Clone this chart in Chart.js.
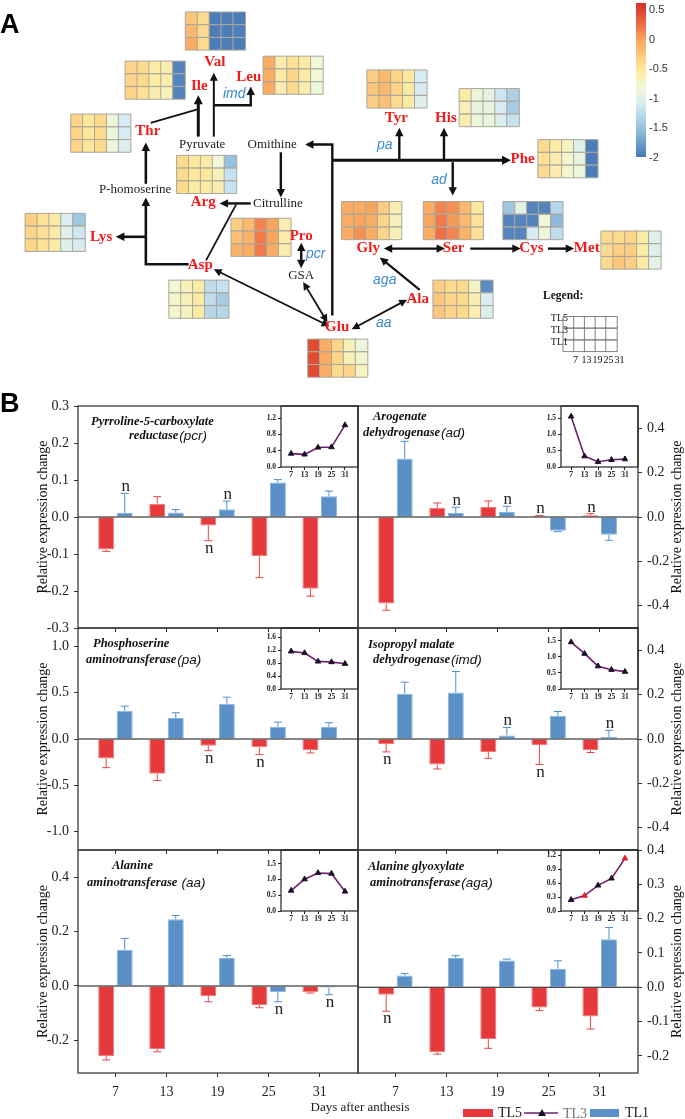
<!DOCTYPE html>
<html>
<head>
<meta charset="utf-8">
<script src="https://cdn.jsdelivr.net/npm/chart.js@4.4.0/dist/chart.umd.min.js"></script>
<style>
  body { margin: 0; background: #fff; }
  #wrap { position: relative; width: 685px; height: 1119px; overflow: hidden; }
  #wrap canvas { position: absolute; left: 0; top: 0; }
</style>
</head>
<body>
<div id="wrap"></div>
<script>
// ---- data ----
const days = [7, 13, 19, 25, 31];

// panel A heatmaps: rows TL5, TL3, TL1 ; columns = days
const hmVal = [[-0.25,-0.4,-1.95,-1.95,-1.95],[-0.15,-0.4,-1.95,-1.95,-1.95],[-0.05,-0.4,-1.95,-1.95,-1.95]];
const hmIle = [[-0.35,-0.4,-0.55,-0.6,-1.9],[-0.35,-0.4,-0.55,-0.6,-1.9],[-0.35,-0.45,-0.6,-0.65,-1.9]];
const hmLeu = [[-0.05,-0.6,-0.45,-0.55,-0.8],[-0.05,-0.55,-0.35,-0.55,-0.8],[-0.05,-0.6,-0.4,-0.6,-0.85]];
const hmThr = [[-0.35,-0.5,-0.4,-0.85,-1.1],[-0.35,-0.5,-0.4,-0.85,-1.1],[-0.35,-0.5,-0.4,-0.85,-1.05]];
const hmArg = [[-0.4,-0.5,-0.55,-0.8,-1.5],[-0.4,-0.5,-0.5,-0.65,-1.2],[-0.4,-0.55,-0.55,-0.6,-1.2]];
const hmTyr = [[-0.3,-0.15,-0.35,-0.5,-1.1],[-0.25,-0.15,-0.35,-0.55,-1.1],[-0.3,-0.2,-0.4,-0.55,-1.0]];
const hmHis = [[-0.55,-0.85,-0.95,-1.15,-1.35],[-0.65,-0.9,-0.9,-1.1,-1.4],[-0.6,-0.85,-0.9,-1.05,-1.2]];
const hmPhe = [[-0.4,-0.55,-0.7,-1.0,-1.95],[-0.45,-0.6,-0.75,-0.9,-1.95],[-0.4,-0.6,-0.75,-0.85,-1.95]];
const hmLys = [[-0.3,-0.45,-0.55,-1.05,-1.45],[-0.35,-0.45,-0.55,-1.0,-1.15],[-0.35,-0.45,-0.55,-1.0,-1.1]];
const hmPro = [[-0.3,-0.15,0.15,0.0,-0.6],[-0.2,-0.1,0.2,0.0,-0.6],[-0.1,-0.05,0.2,-0.05,-0.6]];
const hmAsp = [[-0.8,-0.65,-0.55,-1.25,-1.2],[-0.75,-0.65,-0.55,-1.25,-1.4],[-0.75,-0.7,-0.55,-1.3,-1.3]];
const hmGlu = [[0.45,-0.05,-0.35,-0.65,-0.85],[0.45,-0.05,-0.35,-0.65,-0.75],[0.45,-0.05,-0.4,-0.35,-0.7]];
const hmGly = [[-0.05,-0.05,0.0,-0.3,-0.6],[-0.05,0.0,-0.05,-0.35,-0.65],[-0.05,0.1,-0.05,-0.35,-0.65]];
const hmSer = [[-0.05,0.15,0.1,-0.15,-0.5],[0.0,0.2,0.05,-0.15,-0.45],[-0.05,0.25,0.15,-0.1,-0.45]];
const hmCys = [[-1.45,-0.95,-1.9,-1.9,-1.3],[-1.9,-1.9,-1.9,-0.8,-1.55],[-1.9,-1.9,-1.1,-0.85,-1.25]];
const hmMet = [[-0.4,-0.4,-0.35,-0.55,-1.0],[-0.4,-0.3,-0.3,-0.55,-1.0],[-0.4,-0.25,-0.3,-0.55,-0.95]];
const hmAla = [[-0.3,-0.4,-0.4,-0.7,-1.85],[-0.25,-0.35,-0.4,-0.6,-1.05],[-0.25,-0.35,-0.4,-0.6,-1.05]];
const colorbarTicks = [0.5, 0, -0.5, -1, -1.5, -2];

// panel B: relative expression change (TL5, TL1), error, "n" marks, TL3 insets
const pcrTL5 = [-0.088, 0.036, -0.023, -0.106, -0.194];
const pcrTL5Err = [0.005, 0.019, 0.041, 0.058, 0.020];
const pcrTL1 = [0.011, 0.012, 0.021, 0.093, 0.056];
const pcrTL1Err = [0.053, 0.008, 0.022, 0.008, 0.014];
const pcrTL5n = [0, 0, 1, 0, 0];
const pcrTL1n = [1, 0, 1, 0, 0];
const pcrTL3 = [0.33, 0.31, 0.48, 0.49, 1.03];
const pcrTicks = [-0.3, -0.2, -0.1, 0, 0.1, 0.2, 0.3];
const pcrTL3Ticks = [0, 0.4, 0.8, 1.2];

const adTL5 = [-0.39, 0.042, 0.045, 0.005, 0.008];
const adTL5Err = [0.03, 0.021, 0.027, 0.002, 0.007];
const adTL1 = [0.263, 0.018, 0.023, -0.062, -0.08];
const adTL1Err = [0.078, 0.026, 0.025, 0.004, 0.025];
const adTL5n = [0, 0, 0, 1, 1];
const adTL1n = [0, 1, 1, 0, 0];
const adTL3 = [1.55, 0.33, 0.16, 0.22, 0.24];
const adTicks = [-0.4, -0.2, 0, 0.2, 0.4];
const adTL3Ticks = [0, 0.5, 1.0, 1.5];

const paTL5 = [-0.21, -0.377, -0.072, -0.09, -0.122];
const paTL5Err = [0.10, 0.072, 0.054, 0.079, 0.029];
const paTL1 = [0.305, 0.226, 0.38, 0.133, 0.133];
const paTL1Err = [0.05, 0.058, 0.072, 0.05, 0.043];
const paTL5n = [0, 0, 1, 1, 0];
const paTL1n = [0, 0, 0, 0, 0];
const paTL3 = [1.16, 1.11, 0.85, 0.83, 0.78];
const paTicks = [-1.0, -0.5, 0, 0.5, 1.0];
const paTL3Ticks = [0, 0.4, 0.8, 1.2, 1.6];

const imdTL5 = [-0.022, -0.115, -0.058, -0.027, -0.051];
const imdTL5Err = [0.036, 0.02, 0.029, 0.088, 0.01];
const imdTL1 = [0.204, 0.21, 0.016, 0.105, 0.009];
const imdTL1Err = [0.052, 0.094, 0.036, 0.019, 0.03];
const imdTL5n = [1, 0, 0, 1, 0];
const imdTL1n = [0, 0, 1, 0, 1];
const imdTL3 = [1.46, 1.1, 0.71, 0.6, 0.54];
const imdTicks = [-0.4, -0.2, 0, 0.2, 0.4];
const imdTL3Ticks = [0, 0.5, 1.0, 1.5];

const aaTL5 = [-0.258, -0.232, -0.037, -0.07, -0.023];
const aaTL5Err = [0.014, 0.01, 0.021, 0.01, 0.003];
const aaTL1 = [0.133, 0.245, 0.103, -0.023, -0.006];
const aaTL1Err = [0.042, 0.014, 0.009, 0.035, 0.026];
const aaTL5n = [0, 0, 0, 0, 0];
const aaTL1n = [0, 0, 0, 1, 1];
const aaTL3 = [0.65, 1.01, 1.21, 1.19, 0.62];
const aaTicks = [-0.2, 0, 0.2, 0.4];
const aaTL3Ticks = [0, 0.5, 1.0, 1.5];

const agaTL5 = [-0.022, -0.189, -0.151, -0.059, -0.085];
const agaTL5Err = [0.048, 0.006, 0.027, 0.009, 0.037];
const agaTL1 = [0.034, 0.085, 0.078, 0.054, 0.14];
const agaTL1Err = [0.006, 0.007, 0.004, 0.023, 0.034];
const agaTL5n = [1, 0, 0, 0, 0];
const agaTL1n = [0, 0, 0, 0, 0];
const agaTL3 = [0.24, 0.33, 0.55, 0.7, 1.13];
const agaTL3Red = [0, 1, 0, 0, 1];
const agaTicks = [-0.2, -0.1, 0, 0.1, 0.2, 0.3, 0.4];
const agaTL3Ticks = [0, 0.3, 0.6, 0.9, 1.2];

// ---- style / layout ----
const W = 685, H = 1119;
const SERIF = '"Liberation Serif", "Times New Roman", serif';
const SANS = '"Liberation Sans", Arial, sans-serif';
const RED = '#e5393c', RED_EDGE = '#f07a7a', RED_ERR = '#e8474a';
const BLUE = '#5a90c6', BLUE_EDGE = '#86b3de', BLUE_ERR = '#4f8fd0';
const AA_RED = '#f21c1c', ENZ_BLUE = '#3a8bd0';

Chart.defaults.font.family = SERIF;
Chart.defaults.color = '#222';

const wrap = document.getElementById('wrap');
function addCanvas() {
  const c = document.createElement('canvas');
  c.width = W; c.height = H;
  wrap.appendChild(c);
  return c.getContext('2d');
}

// colour scale of the heatmaps
const cStops = [
  [0.6, [215, 48, 39]], [0.25, [240, 110, 70]], [0.0, [249, 165, 92]],
  [-0.5, [254, 232, 155]], [-0.8, [242, 248, 214]], [-1.1, [214, 235, 244]],
  [-1.5, [150, 194, 222]], [-2.0, [69, 117, 180]]
];
function heatColor(v) {
  if (v >= cStops[0][0]) return 'rgb(' + cStops[0][1] + ')';
  for (let i = 1; i < cStops.length; i++) {
    if (v >= cStops[i][0]) {
      const [v0, c0] = cStops[i - 1], [v1, c1] = cStops[i];
      const t = (v - v1) / (v0 - v1);
      return 'rgb(' + c1.map((c, k) => Math.round(c + (c0[k] - c) * t)).join(',') + ')';
    }
  }
  return 'rgb(' + cStops[cStops.length - 1][1] + ')';
}

// heatmap placement in panel A (top-left corner of each grid)
const CW = 12.25, CH = 13;
const heatmaps = [
  [hmVal, 181, 2], [hmIle, 119, 52], [hmLeu, 261, 47], [hmThr, 63, 106], [hmArg, 172, 148],
  [hmTyr, 368, 61], [hmHis, 463, 80], [hmPhe, 544, 132], [hmLys, 16, 207], [hmPro, 228, 212],
  [hmAsp, 164, 275], [hmGlu, 307, 335], [hmGly, 342, 195], [hmSer, 426, 195], [hmCys, 508, 195],
  [hmMet, 609, 225], [hmAla, 436, 275]
];
const cellPts = [], cellCols = [];
heatmaps.forEach(([vals, x0, y0]) => {
  vals.forEach((row, r) => row.forEach((v, c) => {
    cellPts.push({x: x0 + (c + 0.5) * CW, y: y0 + (r + 0.5) * CH});
    cellCols.push(heatColor(v));
  }));
});
const legendPts = [];
for (let r = 0; r < 3; r++) for (let c = 0; c < 5; c++) legendPts.push({x: 570 + (c + 0.5) * 11, y: 312 + (r + 0.5) * 12});

// pathway diagram: labels and arrows
const aminoLabels = [
  ['Val', 211, 53], ['Ile', 195, 78], ['Leu', 246, 68], ['Thr', 142, 123], ['Arg', 199, 196],
  ['Lys', 94, 231], ['Pro', 300, 230], ['Asp', 196, 260], ['Glu', 337, 323], ['Ala', 420, 294],
  ['Gly', 369, 243], ['Ser', 457, 243], ['Cys', 537, 243], ['Met', 594, 243],
  ['Tyr', 398, 110], ['His', 449, 110], ['Phe', 528, 152]
];
const metaboLabels = [['Pyruvate', 198, 137], ['Omithine', 270, 137], ['P-homoserine', 129, 183], ['Citrulline', 276, 197], ['GSA', 300, 270]];
const enzLabels = [['imd', 231, 86], ['pa', 386, 138], ['ad', 442, 173], ['pcr', 315, 249], ['aga', 386, 275], ['aa', 385, 319]];
const edges = [
  [[[140, 177], [140, 135]], 'end', 2.6],
  [[[145, 115], [194, 101]], '', 1.8],
  [[[194, 129], [194, 87]], 'end', 3],
  [[[210, 129], [210, 64]], 'end', 2],
  [[[210, 97], [248, 97], [248, 78]], 'end', 2.4],
  [[[332, 311], [332, 137], [304, 137]], 'end', 2.4],
  [[[332, 153], [516, 153]], 'end', 3],
  [[[401, 153], [401, 120]], 'end', 2.4],
  [[[447, 153], [447, 120]], 'end', 2.4],
  [[[456, 155], [456, 189]], 'end', 2.4],
  [[[279, 145], [279, 191]], 'end', 2.4],
  [[[248, 197], [216, 197]], 'end', 2.4],
  [[[202, 255], [233, 198]], '', 1.8],
  [[[184, 259], [140, 259], [140, 191]], 'end', 2.6],
  [[[140, 231], [109, 231]], 'end', 2.6],
  [[[300, 237], [300, 263]], 'both', 2.4],
  [[[302, 277], [327, 318]], 'both', 1.8],
  [[[210, 264], [329, 322]], 'both', 1.8],
  [[[352, 325], [409, 295]], 'both', 1.8],
  [[[422, 285], [381, 252]], 'end', 2.2],
  [[[385, 243], [448, 243]], 'both', 2.4],
  [[[474, 243], [526, 243]], 'end', 2.4],
  [[[554, 243], [581, 243]], 'end', 2.4]
];

function arrowHead(ctx, x1, y1, x2, y2, size) {
  const a = Math.atan2(y2 - y1, x2 - x1);
  ctx.beginPath();
  ctx.moveTo(x2, y2);
  ctx.lineTo(x2 - size * Math.cos(a) + size * 0.5 * Math.sin(a), y2 - size * Math.sin(a) - size * 0.5 * Math.cos(a));
  ctx.lineTo(x2 - size * Math.cos(a) - size * 0.5 * Math.sin(a), y2 - size * Math.sin(a) + size * 0.5 * Math.cos(a));
  ctx.closePath();
  ctx.fill();
}

const pagePlugin = {
  id: 'page',
  afterDatasetsDraw(chart) {
    const ctx = chart.ctx, sx = chart.scales.x, sy = chart.scales.y;
    const px = v => sx.getPixelForValue(v), py = v => sy.getPixelForValue(v);
    ctx.save();
    // arrows
    ctx.strokeStyle = '#111'; ctx.fillStyle = '#111'; ctx.lineCap = 'butt'; ctx.lineJoin = 'miter';
    edges.forEach(([pts, heads, lw]) => {
      const P = pts.map(p => [px(p[0]), py(p[1])]);
      const hs = 6 + lw;
      const n = P.length;
      const trim = (a, b) => { const d = Math.hypot(b[0] - a[0], b[1] - a[1]); const k = (d - hs * 0.8) / d; return [a[0] + (b[0] - a[0]) * k, a[1] + (b[1] - a[1]) * k]; };
      const Q = P.map(p => p.slice());
      if (heads) Q[n - 1] = trim(P[n - 2], P[n - 1]);
      if (heads === 'both') Q[0] = trim(P[1], P[0]);
      ctx.lineWidth = lw;
      ctx.beginPath(); ctx.moveTo(Q[0][0], Q[0][1]);
      for (let i = 1; i < n; i++) ctx.lineTo(Q[i][0], Q[i][1]);
      ctx.stroke();
      if (heads) arrowHead(ctx, P[n - 2][0], P[n - 2][1], P[n - 1][0], P[n - 1][1], hs);
      if (heads === 'both') arrowHead(ctx, P[1][0], P[1][1], P[0][0], P[0][1], hs);
    });
    // labels
    ctx.textAlign = 'center'; ctx.textBaseline = 'middle';
    ctx.fillStyle = AA_RED; ctx.font = 'bold 15px ' + SERIF;
    aminoLabels.forEach(([t, x, y]) => ctx.fillText(t, px(x), py(y)));
    ctx.fillStyle = '#222'; ctx.font = '13px ' + SERIF;
    metaboLabels.forEach(([t, x, y]) => ctx.fillText(t, px(x), py(y)));
    ctx.fillStyle = ENZ_BLUE; ctx.font = 'italic 14px ' + SANS;
    enzLabels.forEach(([t, x, y]) => ctx.fillText(t, px(x), py(y)));
    // panel letters
    ctx.fillStyle = '#000'; ctx.font = 'bold 27px ' + SANS; ctx.textAlign = 'left'; ctx.textBaseline = 'alphabetic';
    ctx.fillText('A', 0, 33);
    ctx.fillText('B', 0, 412);
    // colour bar
    const cbY = v => 10 + (0.5 - v) * 59.2;
    const grad = ctx.createLinearGradient(0, 3, 0, 157);
    const gv = v => (cbY(v) - 3) / 154;
    for (let v = 0.62; v >= -1.99; v -= 0.05) grad.addColorStop(Math.min(1, Math.max(0, gv(v))), heatColor(v));
    ctx.fillStyle = grad; ctx.fillRect(636, 3, 10, 154);
    ctx.fillStyle = '#333'; ctx.font = '11px ' + SANS; ctx.textBaseline = 'middle';
    colorbarTicks.forEach(v => ctx.fillText(String(v), 649, cbY(v)));
    // heatmap legend
    ctx.fillStyle = '#111'; ctx.font = 'bold 11.5px ' + SERIF;
    ctx.fillText('Legend:', 543, 296);
    ctx.font = '10px ' + SERIF; ctx.textAlign = 'right';
    ['TL5', 'TL3', 'TL1'].forEach((t, r) => ctx.fillText(t, 568, 318 + r * 12));
    ctx.textAlign = 'center';
    days.forEach((d, c) => ctx.fillText(String(d), 575.5 + c * 11, 360));
    // x title and legend of panel B
    ctx.font = '13px ' + SERIF; ctx.fillStyle = '#222';
    ctx.fillText('Days after anthesis', 360, 1108);
    ctx.fillStyle = RED; ctx.fillRect(463, 1109, 30, 8);
    ctx.fillStyle = BLUE; ctx.fillRect(590, 1109, 29, 8);
    ctx.strokeStyle = '#6e1e6d'; ctx.lineWidth = 1.6;
    ctx.beginPath(); ctx.moveTo(524, 1113); ctx.lineTo(558, 1113); ctx.stroke();
    ctx.fillStyle = '#1b1029';
    ctx.beginPath(); ctx.moveTo(542, 1109); ctx.lineTo(546, 1116); ctx.lineTo(538, 1116); ctx.closePath(); ctx.fill();
    ctx.textAlign = 'left'; ctx.font = '14px ' + SERIF;
    ctx.fillStyle = '#222'; ctx.fillText('TL5', 498, 1113);
    ctx.fillStyle = '#777'; ctx.fillText('TL3', 563, 1114);
    ctx.fillStyle = '#222'; ctx.fillText('TL1', 625, 1113);
    ctx.restore();
  }
};

new Chart(addCanvas(), {
  type: 'scatter',
  data: {
    datasets: [
      {data: cellPts, pointStyle: 'rect', pointRadius: 8.9, backgroundColor: cellCols, borderColor: '#aaa79c', borderWidth: 1},
      {data: legendPts, pointStyle: 'rect', pointRadius: 8.1, backgroundColor: '#fff', borderColor: '#666', borderWidth: 0.8}
    ]
  },
  options: {
    responsive: false, animation: false, events: [],
    layout: {padding: 0},
    scales: {
      x: {type: 'linear', min: 0, max: W, display: false},
      y: {type: 'linear', min: 0, max: H, reverse: true, display: false}
    },
    plugins: {legend: {display: false}, tooltip: {enabled: false}}
  },
  plugins: [pagePlugin]
});

// ---- panel B ----
const COLS = {left: {l: 78, r: 358}, right: {l: 358, r: 638}};
const ROWS = [{t: 406, b: 628}, {t: 628, b: 850}, {t: 850, b: 1073}];

const panels = [
  {col: 'left', row: 0, tl5: pcrTL5, tl5e: pcrTL5Err, tl5n: pcrTL5n, tl1: pcrTL1, tl1e: pcrTL1Err, tl1n: pcrTL1n, min: -0.3, max: 0.3, ticks: pcrTicks,
   title: [['Pyrroline-5-carboxylate', 13, 16], ['reductase', 51, 30]], abbr: '(pcr)', tl3: pcrTL3, tl3Ticks: pcrTL3Ticks, tl3Max: 1.5},
  {col: 'right', row: 0, tl5: adTL5, tl5e: adTL5Err, tl5n: adTL5n, tl1: adTL1, tl1e: adTL1Err, tl1n: adTL1n, min: -0.5, max: 0.5, ticks: adTicks,
   title: [['Arogenate', 15, 11], ['dehydrogenase', 5, 27]], abbr: '(ad)', tl3: adTL3, tl3Ticks: adTL3Ticks, tl3Max: 1.87},
  {col: 'left', row: 1, tl5: paTL5, tl5e: paTL5Err, tl5n: paTL5n, tl1: paTL1, tl1e: paTL1Err, tl1n: paTL1n, min: -1.2, max: 1.2, ticks: paTicks,
   title: [['Phosphoserine', 15, 16], ['aminotransferase', 8, 32]], abbr: '(pa)', tl3: paTL3, tl3Ticks: paTL3Ticks, tl3Max: 1.88},
  {col: 'right', row: 1, tl5: imdTL5, tl5e: imdTL5Err, tl5n: imdTL5n, tl1: imdTL1, tl1e: imdTL1Err, tl1n: imdTL1n, min: -0.5, max: 0.5, ticks: imdTicks,
   title: [['Isopropyl malate', 10, 17], ['dehydrogenase', 15, 32]], abbr: '(imd)', tl3: imdTL3, tl3Ticks: imdTL3Ticks, tl3Max: 1.9},
  {col: 'left', row: 2, tl5: aaTL5, tl5e: aaTL5Err, tl5n: aaTL5n, tl1: aaTL1, tl1e: aaTL1Err, tl1n: aaTL1n, min: -0.32, max: 0.5, ticks: aaTicks,
   title: [['Alanine', 34, 16], ['aminotransferase ', 9, 33]], abbr: '(aa)', tl3: aaTL3, tl3Ticks: aaTL3Ticks, tl3Max: 1.94},
  {col: 'right', row: 2, tl5: agaTL5, tl5e: agaTL5Err, tl5n: agaTL5n, tl1: agaTL1, tl1e: agaTL1Err, tl1n: agaTL1n, min: -0.25, max: 0.4, ticks: agaTicks,
   title: [['Alanine glyoxylate', 10, 17], ['aminotransferase', 12, 33]], abbr: '(aga)', tl3: agaTL3, tl3Ticks: agaTL3Ticks, tl3Max: 1.31, tl3Red: agaTL3Red}
];

const panelDecor = {
  id: 'panelDecor',
  afterDatasetsDraw(chart, args, o) {
    const {ctx, chartArea: a} = chart, y = chart.scales.y;
    ctx.save();
    // error bars and "n" marks
    chart.data.datasets.forEach((ds, di) => {
      const meta = chart.getDatasetMeta(di);
      meta.data.forEach((bar, i) => {
        const v = ds.data[i].y, e = ds.err[i], s = v >= 0 ? 1 : -1;
        const end = y.getPixelForValue(v + s * e);
        ctx.strokeStyle = ds.errColor; ctx.lineWidth = 1;
        ctx.beginPath();
        ctx.moveTo(bar.x, bar.y); ctx.lineTo(bar.x, end);
        ctx.moveTo(bar.x - 4, end); ctx.lineTo(bar.x + 4, end);
        ctx.stroke();
        if (ds.nMark[i]) {
          ctx.fillStyle = '#222'; ctx.font = '17px ' + SERIF; ctx.textAlign = 'center'; ctx.textBaseline = 'alphabetic';
          ctx.fillText('n', bar.x + 1, s > 0 ? end - 2 : end + 12);
        }
      });
    });
    // zero line
    const y0 = y.getPixelForValue(0);
    ctx.strokeStyle = '#111'; ctx.lineWidth = 1.1;
    ctx.beginPath(); ctx.moveTo(a.left, y0); ctx.lineTo(a.right, y0); ctx.stroke();
    // frame
    ctx.strokeStyle = '#3a3a3a'; ctx.lineWidth = 1.3;
    ctx.strokeRect(a.left, a.top, a.right - a.left, a.bottom - a.top);
    // gene title
    ctx.fillStyle = '#111'; ctx.textAlign = 'left'; ctx.textBaseline = 'middle';
    ctx.font = 'bold italic 12.5px ' + SERIF;
    o.title.forEach(([t, dx, dy]) => ctx.fillText(t, a.left + dx, a.top + dy));
    const last = o.title[o.title.length - 1];
    const wLast = ctx.measureText(last[0]).width;
    ctx.font = 'italic 13.5px ' + SANS;
    ctx.fillText(o.abbr, a.left + last[1] + wLast + 1, a.top + last[2]);
    // axis title
    ctx.font = '14px ' + SERIF; ctx.textAlign = 'center';
    ctx.translate(o.side === 'left' ? 43 : 677, (a.top + a.bottom) / 2);
    ctx.rotate(-Math.PI / 2);
    ctx.fillText('Relative expression change', 0, 0);
    ctx.restore();
  }
};

const insetFrame = {
  id: 'insetFrame',
  afterDraw(chart) {
    const {ctx, chartArea: a} = chart;
    ctx.save();
    ctx.strokeStyle = '#222'; ctx.lineWidth = 1.2;
    ctx.strokeRect(a.left, a.top, a.right - a.left, a.bottom - a.top);
    ctx.restore();
  }
};

panels.forEach(p => {
  const c = COLS[p.col], r = ROWS[p.row];
  const isLeft = p.col === 'left', bottomRow = p.row === 2;
  const xH = bottomRow ? 34 : 4;
  const yW = isLeft ? c.l : W - c.r;
  const bars = (vals, errs, ns, label, fill, edge, errColor) => ({
    label, data: days.map((d, i) => ({x: d, y: vals[i]})), backgroundColor: fill, borderColor: edge, borderWidth: 1,
    categoryPercentage: 0.725, barPercentage: 0.865, err: errs, nMark: ns, errColor
  });
  new Chart(addCanvas(), {
    type: 'bar',
    data: {datasets: [
      bars(p.tl5, p.tl5e, p.tl5n, 'TL5', RED, RED_EDGE, RED_ERR),
      bars(p.tl1, p.tl1e, p.tl1n, 'TL1', BLUE, BLUE_EDGE, BLUE_ERR)
    ]},
    options: {
      responsive: false, animation: false, events: [],
      layout: {padding: {left: isLeft ? 0 : c.l, right: isLeft ? W - c.r : 0, top: r.t, bottom: H - r.b - xH}},
      scales: {
        x: {type: 'linear', min: 2.6, max: 35.5, offset: false, position: 'bottom',
            afterFit: s => { s.height = xH; },
            afterBuildTicks: s => { s.ticks = days.map(v => ({value: v})); },
            grid: {drawOnChartArea: false, drawTicks: true, tickLength: 4, color: '#333', offset: false},
            border: {display: false},
            ticks: {display: bottomRow, padding: 7, font: {size: 14}, color: '#222', maxRotation: 0, autoSkip: false}},
        y: {type: 'linear', position: isLeft ? 'left' : 'right', min: p.min, max: p.max,
            afterFit: s => { s.width = yW; },
            afterBuildTicks: s => { s.ticks = p.ticks.map(v => ({value: v})); },
            grid: {drawOnChartArea: false, tickLength: 4, color: '#333'},
            border: {display: false},
            ticks: {padding: 5, font: {size: 14}, color: '#222', callback: v => v.toFixed(1)}}
      },
      plugins: {legend: {display: false}, tooltip: {enabled: false},
        panelDecor: {title: p.title, abbr: p.abbr, side: isLeft ? 'left' : 'right'}}
    },
    plugins: [panelDecor]
  });

  // TL3 inset
  const ia = {l: isLeft ? 281 : 561, r: c.r, t: r.t, b: r.t + 61};
  const iyW = 22, ixH = 13;
  const ptCol = days.map((d, i) => (p.tl3Red && p.tl3Red[i]) ? '#e8202a' : '#1b1029');
  new Chart(addCanvas(), {
    type: 'line',
    data: {datasets: [{label: 'TL3', data: days.map((d, i) => ({x: d, y: p.tl3[i]})),
      borderColor: '#6e1e6d', borderWidth: 1.6, pointStyle: 'triangle', pointRadius: 3.2,
      pointBackgroundColor: ptCol, pointBorderColor: ptCol, pointBorderWidth: 1}]},
    options: {
      responsive: false, animation: false, events: [],
      layout: {padding: {left: ia.l - iyW, right: W - ia.r, top: ia.t, bottom: H - ia.b - ixH}},
      scales: {
        x: {type: 'linear', min: 2.5, max: 36.8,
            afterFit: s => { s.height = ixH; },
            afterBuildTicks: s => { s.ticks = days.map(v => ({value: v})); },
            grid: {drawOnChartArea: false, tickLength: 3, color: '#222'}, border: {display: false},
            ticks: {padding: 1, font: {size: 7.5, weight: 'bold'}, color: '#222', maxRotation: 0, autoSkip: false}},
        y: {type: 'linear', min: 0, max: p.tl3Max,
            afterFit: s => { s.width = iyW; },
            afterBuildTicks: s => { s.ticks = p.tl3Ticks.map(v => ({value: v})); },
            grid: {drawOnChartArea: false, tickLength: 3, color: '#222'}, border: {display: false},
            ticks: {padding: 2, font: {size: 7.5, weight: 'bold'}, color: '#222', callback: v => v.toFixed(1)}}
      },
      plugins: {legend: {display: false}, tooltip: {enabled: false}}
    },
    plugins: [insetFrame]
  });
});
</script>
</body>
</html>
